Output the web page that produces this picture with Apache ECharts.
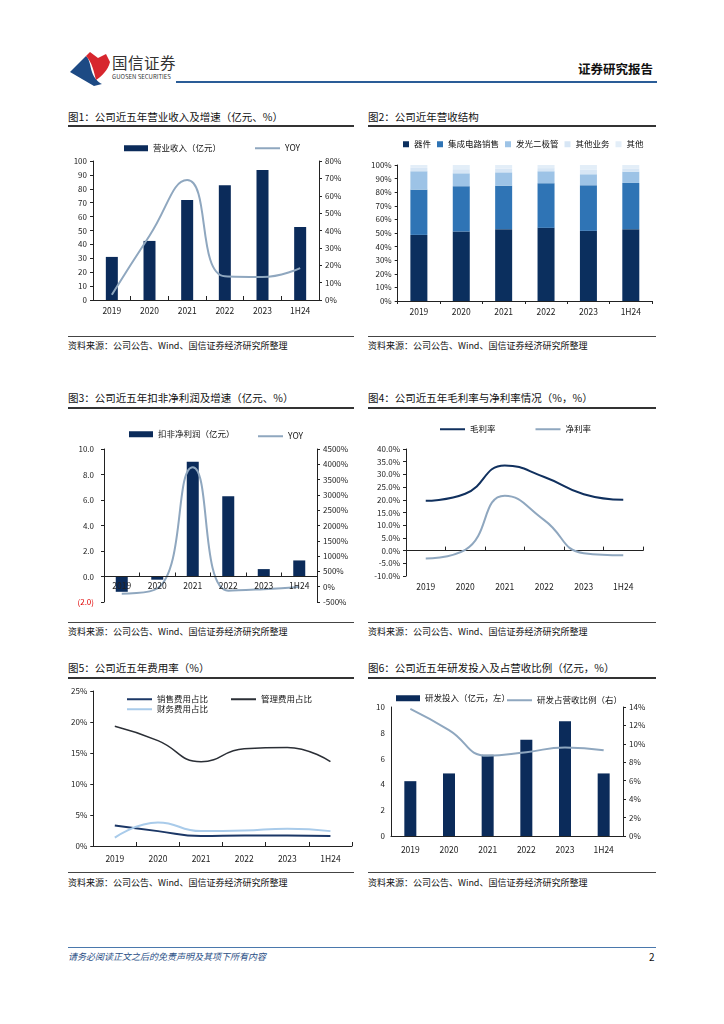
<!DOCTYPE html>
<html><head><meta charset="utf-8">
<script src="https://cdn.jsdelivr.net/npm/echarts@6/dist/echarts.min.js"></script>
<style>
html,body{margin:0;padding:0;background:#fff;}
#page{position:relative;width:724px;height:1024px;overflow:hidden;font-family:"Noto Sans CJK SC","Noto Sans",sans-serif;color:#111;}
.abs{position:absolute;}
.title{position:absolute;font-size:10.5px;line-height:14px;white-space:nowrap;color:#111;}
.uline{position:absolute;height:1.5px;background:#333;}
.sline{position:absolute;height:1px;background:#444;}
.src{position:absolute;font-size:9px;line-height:12px;white-space:nowrap;color:#111;}
.chart{position:absolute;}
</style></head>
<body><div id="page">
<svg class="abs" style="left:66px;top:48px" width="48" height="40" viewBox="0 0 48 40">
  <path d="M4 24 L20 8 C24 12 24 18 26 24 C28 30 32 34 36 36 L28 38 Z" fill="#1D4A84"/>
  <path d="M20 8 L24 4 L32 10 L40 6 L44 14 C42 22 36 28 30 32 C28 24 26 14 20 8 Z" fill="#D7262E"/>
</svg>
<div class="abs" style="left:112px;top:52px;font-size:15.5px;line-height:20px;letter-spacing:0.5px;color:#333;">国信证券</div>
<div class="abs" style="left:112px;top:73px;font-size:6px;line-height:8px;color:#333;">GUOSEN SECURITIES</div>
<div class="abs" style="left:578px;top:61px;font-size:12.5px;line-height:16px;font-weight:bold;color:#111;">证券研究报告</div>
<div class="abs" style="left:176px;top:81px;width:481px;height:2px;background:#2A5C97;"></div>

<div class="title" style="left:68px;top:110px;">图1：公司近五年营业收入及增速（亿元、%）</div>
<div class="uline" style="left:68px;top:125px;width:286px;"></div>
<div class="title" style="left:368px;top:110px;">图2：公司近年营收结构</div>
<div class="uline" style="left:368px;top:125px;width:288px;"></div>
<div class="sline" style="left:68px;top:336px;width:286px;"></div>
<div class="src" style="left:68px;top:340px;">资料来源：公司公告、Wind、国信证券经济研究所整理</div>
<div class="sline" style="left:368px;top:336px;width:288px;"></div>
<div class="src" style="left:368px;top:340px;">资料来源：公司公告、Wind、国信证券经济研究所整理</div>

<div class="title" style="left:68px;top:391px;">图3：公司近五年扣非净利润及增速（亿元、%）</div>
<div class="uline" style="left:68px;top:407px;width:286px;"></div>
<div class="title" style="left:368px;top:391px;">图4：公司近五年毛利率与净利率情况（%，%）</div>
<div class="uline" style="left:368px;top:407px;width:288px;"></div>
<div class="sline" style="left:68px;top:622px;width:286px;"></div>
<div class="src" style="left:68px;top:626px;">资料来源：公司公告、Wind、国信证券经济研究所整理</div>
<div class="sline" style="left:368px;top:622px;width:288px;"></div>
<div class="src" style="left:368px;top:626px;">资料来源：公司公告、Wind、国信证券经济研究所整理</div>

<div class="title" style="left:68px;top:661px;">图5：公司近五年费用率（%）</div>
<div class="uline" style="left:68px;top:677px;width:286px;"></div>
<div class="title" style="left:368px;top:661px;">图6：公司近五年研发投入及占营收比例（亿元，%）</div>
<div class="uline" style="left:368px;top:677px;width:288px;"></div>
<div class="sline" style="left:68px;top:872px;width:286px;"></div>
<div class="src" style="left:68px;top:877px;">资料来源：公司公告、Wind、国信证券经济研究所整理</div>
<div class="sline" style="left:368px;top:872px;width:288px;"></div>
<div class="src" style="left:368px;top:877px;">资料来源：公司公告、Wind、国信证券经济研究所整理</div>

<div class="abs" style="left:68px;top:947px;width:588px;height:1px;background:#4A78AC;"></div>
<div class="abs" style="left:68px;top:951px;font-size:9px;line-height:12px;font-style:italic;color:#2B4F86;">请务必阅读正文之后的免责声明及其项下所有内容</div>
<div class="abs" style="left:649px;top:950px;font-size:10px;line-height:13px;color:#111;">2</div>

<div id="c1" class="chart" style="left:68px;top:133px;width:290px;height:200px;"></div>
<div id="c2" class="chart" style="left:368px;top:133px;width:290px;height:200px;"></div>
<div id="c3" class="chart" style="left:68px;top:412px;width:290px;height:210px;"></div>
<div id="c4" class="chart" style="left:368px;top:412px;width:290px;height:210px;"></div>
<div id="c5" class="chart" style="left:68px;top:684px;width:290px;height:188px;"></div>
<div id="c6" class="chart" style="left:368px;top:684px;width:290px;height:188px;"></div>
</div>
<script>
// ---- data ----
const categories = ['2019', '2020', '2021', '2022', '2023', '1H24'];
// Fig 1
const revenue = [31, 42.5, 72, 82.5, 93.5, 52.5];          // 亿元
const revenueYoy = [3, 37, 69, 13.6, 13.2, 18.4];          // %
// Fig 2 (share, %)
const shareDevice = [48.6, 51.1, 52.8, 53.8, 51.6, 52.8];
const shareIC = [33.3, 33.3, 32.0, 32.8, 33.5, 34.0];
const shareLED = [13.5, 9.5, 9.8, 8.8, 8.1, 8.3];
const shareOtherBiz = [2.5, 3.0, 2.7, 2.3, 3.5, 2.4];
const shareOther = [2.1, 3.1, 2.7, 2.3, 3.3, 2.5];
// Fig 3
const deductedProfit = [-1.2, -0.25, 9.0, 6.3, 0.58, 1.26]; // 亿元
const deductedProfitYoy = [-230, -60, 3900, -130, -80, -10]; // %
// Fig 4
const grossMargin = [19.6, 22.4, 33.5, 29.0, 22.2, 20.0];
const netMargin = [-3.1, 0.3, 21.6, 12.0, -1.0, -1.8];
// Fig 5
const sellingRate = [3.3, 2.4, 1.6, 1.7, 1.7, 1.6];
const adminRate = [19.3, 17.0, 13.6, 15.7, 15.9, 13.6];
const financeRate = [1.35, 3.8, 2.4, 2.5, 2.8, 2.4];
// Fig 6
const rdExpense = [4.25, 4.85, 6.3, 7.47, 8.9, 4.85];      // 亿元
const rdRatio = [13.8, 11.5, 8.7, 9.1, 9.6, 9.3];          // %

// ---- styles ----
const FONT = '"Noto Sans CJK SC","Noto Sans",sans-serif';
const NAVY = '#0B2B5A';
const GREYBLUE = '#8FA7BF';
const AX = '#222';
const lab = {fontSize: 8, color: '#222', fontFamily: FONT};

function catAxis(extra) {
  return Object.assign({
    type: 'category', data: categories,
    axisLine: {lineStyle: {color: AX, width: 1}},
    axisTick: {show: true, inside: true, length: 4, lineStyle: {color: AX}},
    axisLabel: Object.assign({margin: 7}, lab, {fontSize: 8.5})
  }, extra || {});
}
function valAxis(min, max, interval, fmt, extra) {
  return Object.assign({
    type: 'value', min: min, max: max, interval: interval,
    axisLine: {show: true, lineStyle: {color: AX, width: 1}},
    axisTick: {show: true, length: 3, lineStyle: {color: AX}},
    splitLine: {show: false},
    axisLabel: Object.assign({formatter: fmt, margin: 6}, lab)
  }, extra || {});
}
function mk(id, opt) {
  const c = echarts.init(document.getElementById(id), null, {renderer: 'canvas'});
  opt.animation = false;
  opt.textStyle = {fontFamily: FONT};
  c.setOption(opt);
  return c;
}
const legendText = {fontSize: 8.5, color: '#111', fontFamily: FONT};
function barLegend(left, top, names) {
  return {left: left, top: top, padding: 0, itemWidth: 24, itemHeight: 6, icon: 'rect', textStyle: legendText, data: names};
}
function lineLegend(left, top, names, gap) {
  return {left: left, top: top, padding: 0, itemWidth: 25, itemHeight: 2, icon: 'rect', itemGap: gap || 10, textStyle: legendText, data: names};
}

// Fig 1
mk('c1', {
  legend: [barLegend(56, 11, ['营业收入（亿元）']), lineLegend(187, 11, ['YOY'])],
  grid: {left: 25, right: 39, top: 28, bottom: 33},
  xAxis: catAxis(),
  yAxis: [
    valAxis(0, 100, 10, '{value}'),
    valAxis(0, 80, 10, v => v + '%', {position: 'right'})
  ],
  series: [
    {name: '营业收入（亿元）', type: 'bar', data: revenue, barWidth: 12, itemStyle: {color: NAVY}},
    {name: 'YOY', type: 'line', yAxisIndex: 1, data: revenueYoy, smooth: 0.5, symbol: 'none',
      lineStyle: {color: GREYBLUE, width: 2}, itemStyle: {color: GREYBLUE}}
  ]
});

// Fig 2
const stackNames = ['器件', '集成电路销售', '发光二极管', '其他业务', '其他'];
const stackColors = ['#0B2F5E', '#2F74B5', '#9DC3E6', '#D7E6F5', '#E3EEF8'];
const stackData = [shareDevice, shareIC, shareLED, shareOtherBiz, shareOther];
mk('c2', {
  legend: {left: 35, top: 7, padding: 0, itemWidth: 6, itemHeight: 6, itemGap: 6, icon: 'rect',
    textStyle: Object.assign({}, legendText, {fontSize: 8.5}), width: 255},
  grid: {left: 25, right: 6, top: 32, bottom: 32},
  xAxis: catAxis({axisTick: {show: true, inside: false, length: 3, lineStyle: {color: AX}}}),
  yAxis: valAxis(0, 100, 10, '{value}%'),
  series: stackNames.map((n, i) => ({
    name: n, type: 'bar', stack: 's', data: stackData[i], barWidth: 17,
    itemStyle: {color: stackColors[i]}
  }))
});

// Fig 3
const fmtProfit = v => v < 0 ? '(' + Math.abs(v).toFixed(1) + ')' : v.toFixed(1);
const c3 = mk('c3', {
  legend: [barLegend(61, 18, ['扣非净利润（亿元）']), lineLegend(190, 20, ['YOY'])],
  grid: {left: 36, right: 41, top: 37, bottom: 20},
  xAxis: catAxis({
    z: 10,
    axisLine: {onZero: false, lineStyle: {color: AX, width: 1}},
    axisLabel: Object.assign({margin: 5}, lab, {fontSize: 8.5})
  }),
  yAxis: [
    valAxis(-2, 10, 2, fmtProfit,
      {axisLabel: Object.assign({}, lab, {margin: 10, formatter: fmtProfit,
        color: v => (Number(v) < 0 ? '#E00000' : '#222')})}),
    valAxis(-500, 4500, 500, v => v + '%', {position: 'right'})
  ],
  series: [
    {name: '扣非净利润（亿元）', type: 'bar', data: deductedProfit, barWidth: 12, itemStyle: {color: NAVY}},
    {name: 'YOY', type: 'line', yAxisIndex: 1, data: deductedProfitYoy, smooth: 0.5, symbol: 'none',
      lineStyle: {color: GREYBLUE, width: 2}, itemStyle: {color: GREYBLUE}}
  ]
});
// place the category axis on the zero line of the left value axis (via the library's scale)
(function () {
  const yZero = c3.convertToPixel({yAxisIndex: 0}, 0);
  const yMin = c3.convertToPixel({yAxisIndex: 0}, -2);
  c3.setOption({xAxis: {offset: -(yMin - yZero)}});
})();

// Fig 4
mk('c4', {
  legend: lineLegend(72, 13, ['毛利率', '净利率'], 40),
  grid: {left: 38, right: 15, top: 37, bottom: 46},
  xAxis: catAxis({axisTick: {show: true, inside: true, length: 4, lineStyle: {color: AX}}}),
  yAxis: valAxis(-10, 40, 5, v => v.toFixed(1) + '%'),
  series: [
    {name: '毛利率', type: 'line', data: grossMargin, smooth: 0.5, symbol: 'none',
      lineStyle: {color: '#10305E', width: 2}, itemStyle: {color: '#10305E'}},
    {name: '净利率', type: 'line', data: netMargin, smooth: 0.5, symbol: 'none',
      lineStyle: {color: GREYBLUE, width: 2}, itemStyle: {color: GREYBLUE}}
  ]
});

// Fig 5
mk('c5', {
  legend: [
    lineLegend(59, 11, ['销售费用占比', '管理费用占比'], 23),
    lineLegend(59, 21, ['财务费用占比'])
  ],
  grid: {left: 23, right: 6, top: 7, bottom: 26},
  xAxis: catAxis({axisLabel: Object.assign({margin: 9}, lab, {fontSize: 8.5})}),
  yAxis: valAxis(0, 25, 5, '{value}%'),
  series: [
    {name: '销售费用占比', type: 'line', data: sellingRate, smooth: 0.5, symbol: 'none',
      lineStyle: {color: '#1B3766', width: 2}, itemStyle: {color: '#1B3766'}},
    {name: '管理费用占比', type: 'line', data: adminRate, smooth: 0.5, symbol: 'none',
      lineStyle: {color: '#2B2F36', width: 1.5}, itemStyle: {color: '#2B2F36'}},
    {name: '财务费用占比', type: 'line', data: financeRate, smooth: 0.5, symbol: 'none',
      lineStyle: {color: '#A9CBEA', width: 2}, itemStyle: {color: '#A9CBEA'}}
  ]
});

// Fig 6
mk('c6', {
  legend: [barLegend(28, 10, ['研发投入（亿元，左）']), lineLegend(139, 12, ['研发占营收比例（右）'])],
  grid: {left: 23, right: 35, top: 23, bottom: 36},
  xAxis: catAxis({axisTick: {show: false}, axisLabel: Object.assign({margin: 10}, lab, {fontSize: 8.5})}),
  yAxis: [
    valAxis(0, 10, 2, '{value}', {axisTick: {show: false}}),
    valAxis(0, 14, 2, v => v + '%', {position: 'right'})
  ],
  series: [
    {name: '研发投入（亿元，左）', type: 'bar', data: rdExpense, barWidth: 12, itemStyle: {color: NAVY}},
    {name: '研发占营收比例（右）', type: 'line', yAxisIndex: 1, data: rdRatio, smooth: 0.5, symbol: 'none',
      lineStyle: {color: GREYBLUE, width: 2}, itemStyle: {color: GREYBLUE}}
  ]
});
</script>
</body></html>
